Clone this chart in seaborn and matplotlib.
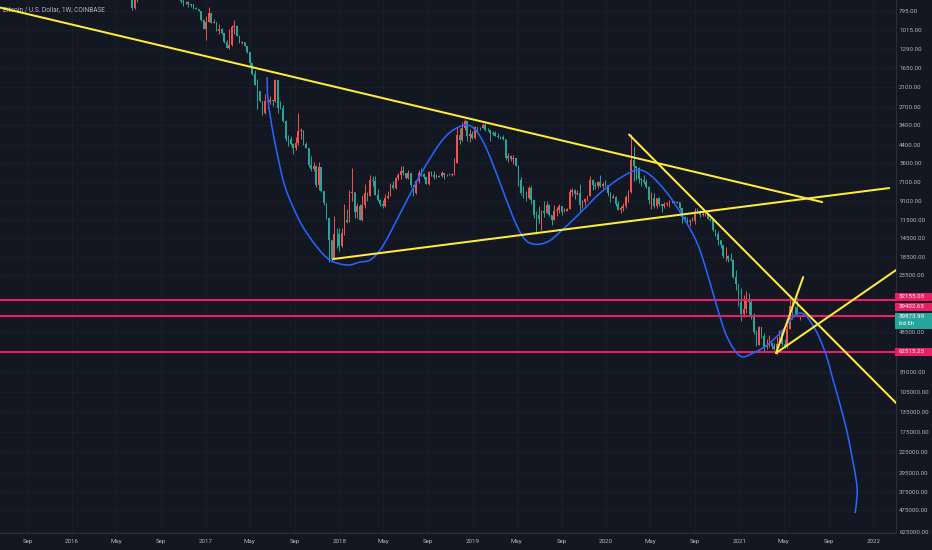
import numpy as np
import pandas as pd
import matplotlib
matplotlib.use("Agg")
import matplotlib.pyplot as plt
import matplotlib.dates as mdates
from matplotlib.path import Path
from matplotlib.patches import PathPatch, Rectangle
from matplotlib.ticker import NullLocator
from matplotlib.transforms import IdentityTransform
import seaborn as sns

# ---------------- data: weekly candles (Coinbase BTC/USD, week starts Monday) ----------------
first_week = "2016-05-30"
first_open = 530

close_2016 = [575, 670, 760, 630, 660, 650, 665, 660, 624, 590, 570, 580, 575, 605, 605, 610,
              603, 613, 617, 640, 655, 700, 710, 705, 730, 730, 765, 770, 790, 890, 998]
high_2016 = [590, 680, 780, 770, 705, 680, 680, 680, 665, 625, 600, 590, 590, 610, 630, 612,
             610, 615, 620, 645, 660, 720, 745, 725, 755, 750, 770, 775, 795, 900, 1000]
low_2016 = [525, 570, 670, 550, 620, 580, 640, 650, 640, 480, 570, 565, 570, 570, 600, 600,
            595, 600, 605, 615, 630, 650, 680, 700, 700, 725, 730, 755, 770, 790, 880]

close_2017 = [910, 820, 925, 920, 1020, 1000, 1050, 1180, 1270, 1230, 970, 965, 1095, 1190, 1185,
              1240, 1350, 1550, 1780, 2050, 2200, 2520, 2950, 2500, 2550, 2480, 2520, 1930, 2750,
              2750, 3250, 4100, 4100, 4350, 4600, 4300, 3700, 3650, 4380, 4600, 5700, 6000, 5750,
              7400, 5850, 8000, 9300, 11200, 15000, 19100, 13800, 13900]
high_2017 = [1150, 910, 930, 925, 1030, 1065, 1060, 1200, 1280, 1290, 1250, 1060, 1100, 1200, 1220,
             1250, 1360, 1600, 1800, 2060, 2790, 2550, 3000, 2980, 2770, 2600, 2680, 2550, 2950,
             2800, 3300, 4200, 4480, 4400, 4980, 4700, 4400, 4100, 4400, 4600, 5850, 6200, 6200,
             7600, 7900, 8100, 9500, 11400, 19700, 19900, 19100, 16500]
low_2017 = [850, 750, 810, 880, 915, 940, 990, 1050, 1150, 1000, 950, 890, 950, 1080, 1170,
            1180, 1240, 1350, 1540, 1700, 1900, 2200, 2500, 2300, 2450, 2350, 2480, 1900, 1920,
            2500, 2650, 3200, 3900, 3950, 4300, 4000, 2950, 3550, 3650, 4250, 4600, 5100, 5500,
            5700, 5500, 5850, 8000, 9300, 11200, 15000, 11000, 12800]

close_2018 = [16200, 13600, 11500, 11800, 8200, 8100, 10400, 9600, 11500, 9500, 8200, 8500, 6900,
              7000, 8350, 8900, 9400, 9650, 8700, 8500, 7350, 7700, 6750, 6500, 6150, 6350, 6750,
              6350, 7400, 8200, 7050, 6300, 6400, 6700, 7250, 6250, 6500, 6700, 6600, 6600, 6300,
              6500, 6450, 6480, 6400, 5600, 3900, 4150, 3550, 3250, 3950, 3850]
high_2018 = [17200, 16300, 14000, 12000, 11900, 9000, 11200, 11300, 11600, 11700, 9900, 9100, 8500,
             7500, 8400, 9000, 9700, 9950, 9800, 8880, 8500, 7750, 7780, 6900, 6850, 6450, 6800,
             6800, 7600, 8500, 8250, 7150, 6600, 6850, 7300, 7400, 6600, 6800, 6750, 6650, 6700,
             6800, 6550, 6500, 6550, 6500, 5600, 4350, 4200, 3650, 4200, 4250]
low_2018 = [12800, 12800, 9400, 10000, 7900, 5900, 8100, 9300, 9400, 8400, 7300, 8100, 6500,
            6600, 6600, 7800, 8800, 8900, 8300, 7950, 7200, 7050, 6650, 6300, 5800, 5800, 6300,
            6100, 6300, 7400, 6950, 6100, 5900, 6300, 6700, 6150, 6150, 6200, 6400, 6450, 6200,
            6300, 6400, 6300, 6350, 5200, 3500, 3550, 3300, 3150, 3250, 3600]

close_2019 = [4050, 3500, 3550, 3550, 3400, 3650, 3650, 3800, 3800, 3950, 4000, 4000, 4100, 5200,
              5100, 5300, 5200, 5750, 6950, 8200, 8700, 8700, 7650, 8950, 10800, 10800, 11450,
              10250, 10550, 9500, 10800, 11550, 10250, 10150, 9600, 10450, 10300, 10000, 8050,
              7900, 8300, 8200, 9550, 9200, 8800, 8500, 6900, 7400, 7500, 7100, 7500, 7300]
high_2019 = [4100, 4100, 3750, 3650, 3550, 3700, 3700, 4200, 3900, 3950, 4050, 4100, 4150, 5350,
             5500, 5400, 5650, 5800, 7450, 8350, 8700, 9100, 8800, 9400, 11200, 13850, 12000,
             13200, 11100, 10600, 11000, 12300, 11550, 10950, 10600, 10900, 10450, 10350, 10050,
             8500, 8800, 8400, 10400, 9900, 9550, 9100, 8500, 7850, 7750, 7650, 7550, 7700]
low_2019 = [3700, 3450, 3500, 3500, 3350, 3350, 3550, 3650, 3700, 3700, 3800, 3950, 3900, 4100,
            4900, 5000, 5000, 5200, 5700, 6650, 7500, 8000, 7450, 7500, 8950, 10350, 9650,
            10100, 9100, 9100, 9400, 10800, 9500, 9800, 9400, 9600, 9900, 9900, 7800,
            7700, 7800, 7900, 7300, 8900, 8700, 8400, 6600, 6850, 7100, 7000, 6450, 7100]

close_2020 = [7350, 8150, 8700, 8600, 9350, 10150, 9900, 9650, 8550, 8050, 5350, 5800, 5900, 6800,
              6900, 7100, 7550, 8900, 8750, 9650, 8750, 9450, 9650, 9400, 9300, 9000, 9100, 9300,
              9200, 9950, 11100, 11700, 11900, 11650, 11700, 10250, 10300, 10900, 10750, 10650,
              11400, 11500, 13050, 13750, 14850, 15950, 18400, 18200, 19150, 19200, 23850, 26300,
              33000]
high_2020 = [7500, 8450, 9200, 8750, 9600, 10150, 10500, 10250, 9950, 9200, 8150, 7000, 6950, 7200,
             7450, 7300, 7700, 9450, 10000, 9900, 9850, 9650, 10400, 9950, 9600, 9800, 9300, 9450,
             9300, 10100, 12000, 11800, 12100, 12450, 11700, 12100, 10600, 11100, 10950, 10950,
             11450, 11750, 13350, 14100, 15950, 16500, 18800, 19500, 19900, 19400, 24300, 28400,
             34800]
low_2020 = [6900, 7350, 8100, 8250, 8500, 9100, 9700, 9300, 8400, 7900, 3850, 4450, 5800, 5850,
            6750, 6500, 6800, 7500, 8100, 8200, 8700, 8650, 9300, 9200, 9200, 8950, 8950, 9050,
            9050, 9150, 9900, 11000, 11150, 11400, 11150, 9900, 9850, 10200, 10150, 10400,
            10550, 11250, 11450, 12900, 13250, 14850, 15900, 16300, 18100, 17600, 19000, 21800,
            26100]

close_2021 = [38300, 36000, 32300, 33100, 39200, 48600, 57400, 45200, 51200, 59000, 57500, 55800,
              58100, 60000, 56200, 49100, 56600, 58200, 46400, 34700, 35650, 35800, 39100, 39873.99]
high_2021 = [41950, 40100, 37850, 38550, 41000, 49700, 58350, 57600, 52650, 61800, 60600, 58400,
             60200, 61300, 64900, 57500, 58000, 59500, 59600, 46500, 40900, 39500, 39400, 41300]
low_2021 = [27700, 30300, 28800, 29250, 32300, 37900, 47000, 44900, 45200, 49300, 53300, 50300,
            55500, 55500, 51500, 47000, 47100, 53000, 43800, 30000, 31200, 34800, 31000, 38800]

# ---------------- drawings (decimal year, price) ----------------
curve_year = [2017.461, 2017.468, 2017.506, 2017.558, 2017.596, 2017.655, 2017.730, 2017.835,
              2017.933, 2018.060, 2018.157, 2018.232, 2018.307, 2018.382, 2018.509, 2018.629,
              2018.757, 2018.854, 2018.959, 2019.034, 2019.109, 2019.206, 2019.303, 2019.378,
              2019.453, 2019.558, 2019.655, 2019.805, 2019.955, 2020.105, 2020.232, 2020.330,
              2020.457, 2020.577, 2020.682, 2020.757, 2020.831, 2020.906, 2021.004, 2021.101,
              2021.206, 2021.303, 2021.401, 2021.453, 2021.506, 2021.581, 2021.648, 2021.700,
              2021.753, 2021.805, 2021.843, 2021.873, 2021.880, 2021.865]
curve_price = [1851, 2486, 3793, 5862, 7574, 9784, 12640, 16330,
               19290, 20570, 19790, 19290, 16970, 13650, 8945, 6091,
               4310, 3650, 3422, 3745, 4716, 7194, 11120, 14370,
               15720, 15320, 13480, 10560, 8177, 6748, 6091, 6494,
               8177, 11120, 15510, 22790, 35220, 51700, 65950, 63460,
               57280, 49130, 40030, 38020, 40030, 49130, 65110, 89690,
               123500, 174600, 243500, 322800, 391100, 492500]

trend_start_year = [2015.461, 2017.955, 2020.172, 2021.273, 2021.273]
trend_start_price = [760, 19040, 3867, 63460, 63460]
trend_end_year = [2021.618, 2022.120, 2022.172, 2021.476, 2022.172]
trend_end_price = [9177, 7671, 120400, 23980, 21920]

level_prices = [32155.03, 39402.63, 62515.25]
last_price = 39873.99
last_countdown = "6d 6h"

y_ticks = [795, 1015, 1290, 1650, 2100, 2700, 3400, 4400, 5600, 7100, 9100, 11500, 14500,
           18500, 23500, 48500, 81000, 105000, 135000, 175000, 225000, 295000, 375000,
           475000, 625000]
x_tick_dates = ["2015-09-01", "2016-01-01", "2016-05-01", "2016-09-01", "2017-01-01",
                "2017-05-01", "2017-09-01", "2018-01-01", "2018-05-01", "2018-09-01",
                "2019-01-01", "2019-05-01", "2019-09-01", "2020-01-01", "2020-05-01",
                "2020-09-01", "2021-01-01", "2021-05-01", "2021-09-01", "2022-01-01"]
x_tick_labels = ["Sep", "2016", "May", "Sep", "2017", "May", "Sep", "2018", "May", "Sep",
                 "2019", "May", "Sep", "2020", "May", "Sep", "2021", "May", "Sep", "2022"]
title = "Bitcoin / U.S. Dollar, 1W, COINBASE"

# ---------------- style ----------------
BG = "#131722"
GRID = "#1c202b"
TXT = "#b2b5be"
UP = "#26a69a"
DN = "#ef5350"
YEL = "#ffeb3b"
BLUE = "#2962ff"
PINK = "#e91e63"

sns.set_theme(style="dark", rc={"axes.facecolor": BG, "figure.facecolor": BG})
plt.rcParams["font.family"] = ["Roboto", "DejaVu Sans"]

W, H = 932, 550
fig = plt.figure(figsize=(W / 100, H / 100), dpi=100)
ax = fig.add_axes([0, 17 / H, 896 / W, 533 / H])
ax.set_facecolor(BG)
ax.set_yscale("log")

base_num = mdates.date2num(np.datetime64("2016-01-01"))


def yr2num(y):
    return base_num + (np.asarray(y, dtype=float) - 2016.0) * 365.25


# candles
close = np.array(close_2016 + close_2017 + close_2018 + close_2019 + close_2020 + close_2021, float)
high = np.array(high_2016 + high_2017 + high_2018 + high_2019 + high_2020 + high_2021, float)
low = np.array(low_2016 + low_2017 + low_2018 + low_2019 + low_2020 + low_2021, float)
opn = np.concatenate([[first_open], close[:-1]])
high = np.maximum(high, np.maximum(opn, close))
low = np.minimum(low, np.minimum(opn, close))
dates = pd.date_range(first_week, periods=len(close), freq="7D")
xc = mdates.date2num(dates.to_pydatetime())
cols = np.where(close >= opn, UP, DN)
ax.vlines(xc, low, high, colors=cols, lw=0.7, zorder=2)
body_h = np.maximum(np.abs(close - opn), 0.004 * opn)
ax.bar(xc, body_h, bottom=np.minimum(opn, close), width=4.6, color=cols, lw=0, zorder=3)

# horizontal levels
for v in level_prices:
    ax.axhline(v, color=PINK, lw=1.5, zorder=4)

# yellow trend lines
for ys, ps, ye, pe in zip(trend_start_year, trend_start_price, trend_end_year, trend_end_price):
    sns.lineplot(x=[float(yr2num(ys)), float(yr2num(ye))], y=[ps, pe], ax=ax,
                 color=YEL, lw=1.45, zorder=6, estimator=None, sort=False)

# blue smooth curve (Catmull-Rom through anchors, in display-linear space)
cx = yr2num(curve_year)
cy = np.log10(np.array(curve_price, float))
P = np.column_stack([cx, cy])
Pe = np.vstack([P[0], P, P[-1]])
verts = [P[0]]
codes = [Path.MOVETO]
for i in range(len(P) - 1):
    p0, p1, p2, p3 = Pe[i], Pe[i + 1], Pe[i + 2], Pe[i + 3]
    c1 = p1 + (p2 - p0) / 6.0
    c2 = p2 - (p3 - p1) / 6.0
    verts += [c1, c2, p2]
    codes += [Path.CURVE4] * 3
verts = np.array(verts)
verts[:, 1] = 10 ** verts[:, 1]
ax.add_patch(PathPatch(Path(verts, codes), fill=False, edgecolor=BLUE, lw=1.15, zorder=5))

# axes limits / ticks
ax.set_xlim(mdates.date2num(np.datetime64("2015-06-18")), mdates.date2num(np.datetime64("2022-03-04")))
ax.set_ylim(636000, 690)
ax.yaxis.tick_right()
ax.set_yticks(y_ticks)
ax.set_yticklabels([f"{v:.2f}" for v in y_ticks])
ax.yaxis.set_minor_locator(NullLocator())
ax.set_xticks([mdates.date2num(np.datetime64(d)) for d in x_tick_dates])
ax.set_xticklabels(x_tick_labels)
ax.xaxis.set_minor_locator(NullLocator())
ax.tick_params(axis="y", length=0, pad=2.3, labelsize=4.4, labelcolor=TXT)
ax.tick_params(axis="x", length=0, pad=4.0, labelsize=4.4, labelcolor=TXT)
ax.grid(True, color=GRID, lw=0.6, zorder=0)
ax.set_axisbelow(True)
for s in ["top", "left"]:
    ax.spines[s].set_visible(False)
for s in ["right", "bottom"]:
    ax.spines[s].set_color("#2a2e39")
    ax.spines[s].set_linewidth(0.8)
ax.set_xlabel("")
ax.set_ylabel("")

ax.text(3 / 896, 1 - 10 / 533, title, transform=ax.transAxes, fontsize=4.7, color=TXT,
        va="center", ha="left", zorder=1)

# price labels on the scale (stacked like the reference)
fig.canvas.draw()
ident = IdentityTransform()
x0 = ax.get_xlim()[0]


def ypix(v):
    return ax.transData.transform((x0, v))[1]


label_shift = [3, 9, 0]  # pixels pushed upward to avoid overlap
for v, sh in zip(level_prices, label_shift):
    yc = ypix(v) + sh
    fig.add_artist(Rectangle((895, yc - 4), 37, 8, transform=ident, facecolor=PINK,
                             edgecolor="none", zorder=10))
    fig.text(899 / W, yc / H, f"{v:.2f}", fontsize=4.4, color="white", va="center",
             ha="left", zorder=11)

yl = ypix(last_price)
fig.add_artist(Rectangle((895, yl - 12), 37, 16, transform=ident, facecolor=UP,
                         edgecolor="none", zorder=10))
fig.text(899 / W, yl / H, f"{last_price:.2f}", fontsize=4.4, color="white", va="center",
         ha="left", zorder=11)
fig.text(899 / W, (yl - 7) / H, last_countdown, fontsize=4.4, color="white", va="center",
         ha="left", zorder=11)

fig.savefig("out.png", dpi=100, facecolor=BG)
